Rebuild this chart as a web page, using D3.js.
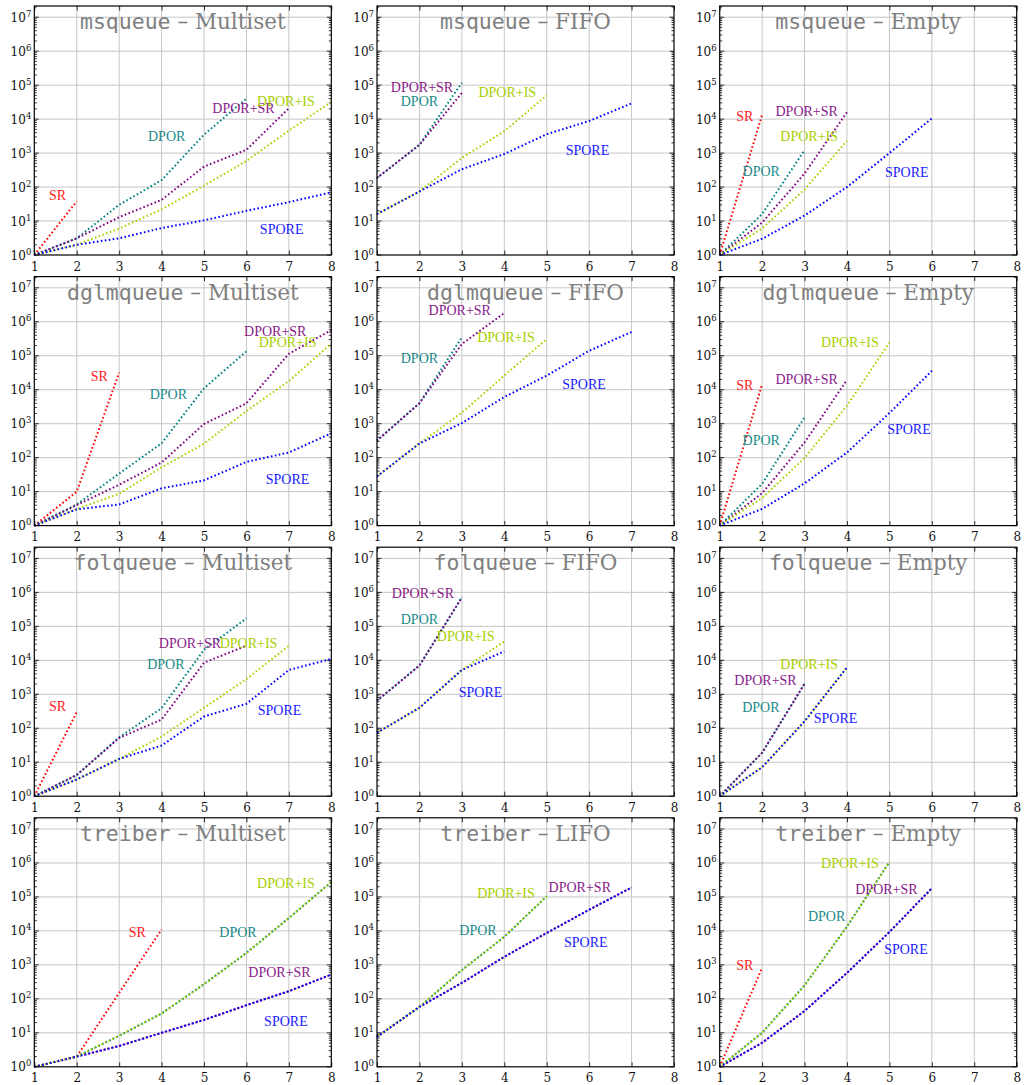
<!DOCTYPE html>
<html>
<head>
<meta charset="utf-8">
<script src="https://cdn.jsdelivr.net/npm/d3@7"></script>
<style>
  body { margin: 0; background: #fff; }
</style>
</head>
<body>
<svg id="chart" width="1025" height="1085"></svg>
<script>
// Number of explored states per thread count, log scale, for four data structures.
const structures = ["msqueue", "dglmqueue", "folqueue", "treiber"];
const specRows = [
  ["Multiset", "FIFO", "Empty"],
  ["Multiset", "FIFO", "Empty"],
  ["Multiset", "FIFO", "Empty"],
  ["Multiset", "LIFO", "Empty"]
];
const seriesNames = ["SR", "DPOR", "DPOR+SR", "DPOR+IS", "SPORE"];
const xTicks = [1, 2, 3, 4, 5, 6, 7, 8];
const yTickExponents = [0, 1, 2, 3, 4, 5, 6, 7];

// Each panel: one value list per series (SR, DPOR, DPOR+SR, DPOR+IS, SPORE), starting at x = 1.
const msqueueMultiset = [
  [1, 38],
  [1, 3.1, 30, 160, 3500, 40000],
  [1, 3.1, 13, 42, 400, 1250, 21000],
  [1, 2, 6, 22, 110, 590, 4600, 32000],
  [1, 2, 3.1, 6.2, 10.5, 20, 36, 70]
];
const msqueueFIFO = [
  [],
  [185, 1750, 118000],
  [185, 1750, 59000],
  [16, 74, 720, 4400, 50000],
  [16, 74, 335, 940, 3600, 8800, 29000]
];
const msqueueEmpty = [
  [1, 13500],
  [1, 16, 1220],
  [1, 9, 250, 16000],
  [1, 6, 85, 2300],
  [1, 3, 14.5, 100, 1000, 10500]
];
const dglmqueueMultiset = [
  [1, 10, 32000],
  [1, 4.2, 34, 265, 11000, 135000],
  [1, 4, 16, 72, 980, 4000, 115000, 570000],
  [1, 3.1, 8.6, 52, 258, 2350, 18000, 228000],
  [1, 3, 4.2, 12.5, 21.5, 75, 142, 520]
];
const dglmqueueFIFO = [
  [],
  [318, 4000, 350000],
  [318, 4000, 222000, 1800000],
  [28, 262, 2120, 26000, 310000],
  [28, 262, 1040, 6100, 26000, 140000, 500000]
];
const dglmqueueEmpty = [
  [1, 14500],
  [1, 17, 1530],
  [1, 9, 280, 19500],
  [1, 6.5, 98, 3400, 245000],
  [1, 3.1, 17.5, 142, 2050, 36000]
];
const folqueueMultiset = [
  [1, 300],
  [1, 4.2, 54, 390, 20500, 172000],
  [1, 4.2, 52, 180, 8500, 27000],
  [1, 3.1, 12.5, 57, 400, 2800, 27000],
  [1, 3.1, 12.5, 31, 222, 525, 5200, 11000]
];
const folqueueFIFO = [
  [],
  [650, 7000, 710000],
  [650, 7000, 710000],
  [74, 400, 5200, 36000],
  [74, 400, 5200, 18300]
];
const folqueueEmpty = [
  [],
  [1, 19, 2050],
  [1, 19, 2050],
  [1, 7.1, 160, 6200],
  [1, 7.1, 160, 6200]
];
const treiberMultiset = [
  [1, 2, 150, 11000],
  [1, 2, 8.2, 37, 270, 2250, 24000, 275000],
  [1, 2, 4.1, 10, 24, 65, 168, 520],
  [1, 2, 8.2, 37, 270, 2250, 24000, 275000],
  [1, 2, 4.1, 10, 24, 65, 168, 520]
];
const treiberLIFO = [
  [],
  [7.6, 58, 700, 6700, 105000],
  [7.6, 58, 295, 1730, 8700, 42000, 190000],
  [7.6, 58, 700, 6700, 105000],
  [7.6, 58, 295, 1730, 8700, 42000, 190000]
];
const treiberEmpty = [
  [1, 820],
  [1, 10, 250, 13500, 1070000],
  [1, 5.1, 44, 580, 9300, 180000],
  [1, 10, 250, 13500, 1070000],
  [1, 5.1, 44, 580, 9300, 180000]
];

// Label anchors per panel in data units: [x, log10(y)], in series order; null = no label.
const msqueueMultisetLabels = [[1.55, 1.76], [4.12, 3.48], [5.93, 4.33], [6.93, 4.53], [6.83, 0.74]];
const msqueueFIFOLabels = [null, [2.0, 4.51], [2.06, 4.92], [4.07, 4.8], [5.96, 3.09]];
const msqueueEmptyLabels = [[1.59, 4.07], [1.98, 2.45], [3.05, 4.24], [3.11, 3.5], [5.41, 2.42]];
const dglmqueueMultisetLabels = [[2.53, 4.39], [4.16, 3.85], [6.68, 5.71], [6.97, 5.4], [6.97, 1.35]];
const dglmqueueFIFOLabels = [null, [2.0, 4.93], [2.95, 6.33], [4.04, 5.54], [5.88, 4.15]];
const dglmqueueEmptyLabels = [[1.59, 4.14], [1.98, 2.5], [3.05, 4.31], [4.07, 5.39], [5.46, 2.84]];
const folqueueMultisetLabels = [[1.55, 2.63], [4.1, 3.89], [4.67, 4.49], [6.05, 4.49], [6.78, 2.53]];
const folqueueFIFOLabels = [null, [2.0, 5.2], [2.08, 5.96], [3.09, 4.71], [3.44, 3.06]];
const folqueueEmptyLabels = [null, [1.97, 2.6], [2.08, 3.4], [3.11, 3.89], [3.73, 2.3]];
const treiberMultisetLabels = [[3.43, 3.97], [5.8, 3.95], [6.78, 2.79], [6.93, 5.41], [6.93, 1.35]];
const treiberLIFOLabels = [null, [3.38, 4.02], [5.78, 5.29], [4.04, 5.1], [5.92, 3.65]];
const treiberEmptyLabels = [[1.59, 2.99], [3.52, 4.43], [4.93, 5.22], [4.07, 5.98], [5.39, 3.45]];

const panelValues = [
  [msqueueMultiset, msqueueFIFO, msqueueEmpty],
  [dglmqueueMultiset, dglmqueueFIFO, dglmqueueEmpty],
  [folqueueMultiset, folqueueFIFO, folqueueEmpty],
  [treiberMultiset, treiberLIFO, treiberEmpty]
];
const panelLabels = [
  [msqueueMultisetLabels, msqueueFIFOLabels, msqueueEmptyLabels],
  [dglmqueueMultisetLabels, dglmqueueFIFOLabels, dglmqueueEmptyLabels],
  [folqueueMultisetLabels, folqueueFIFOLabels, folqueueEmptyLabels],
  [treiberMultisetLabels, treiberLIFOLabels, treiberEmptyLabels]
];

// Styling
const seriesColors = ["#ff0000", "#008080", "#800080", "#a8d400", "#0000ff"];
const labelColors = ["#ff2020", "#1a8a8a", "#8a1a8a", "#a8d000", "#1a1aff"];
// Dot phase per series so coinciding curves still show both colours.
const dashOffsets = [0, 0, 0.9, 0.9, 0];
const serif = "'DejaVu Serif', serif";
const labelSerif = "'Liberation Serif', 'Times New Roman', serif";
const mono = "'DejaVu Sans Mono', monospace";

const layout = {
  left0: 34.3, colStep: 342.7, width: 297,
  bottom0: 255, rowStep: 270.6, height: 249,
  yTopExp: 7.33
};

const svg = d3.select("#chart");

structures.forEach((name, r) => {
  specRows[r].forEach((spec, c) => {
    const left = layout.left0 + c * layout.colStep;
    const bottom = layout.bottom0 + r * layout.rowStep;
    const top = bottom - layout.height;
    const right = left + layout.width;

    const x = d3.scaleLinear().domain([1, 8]).range([left, right]);
    const y = d3.scaleLog().domain([1, Math.pow(10, layout.yTopExp)]).range([bottom, top]);

    const g = svg.append("g").attr("class", "panel");

    // grid
    g.append("g").selectAll("line.vgrid").data(xTicks.slice(1, -1)).join("line")
      .attr("x1", d => x(d)).attr("x2", d => x(d))
      .attr("y1", top).attr("y2", bottom)
      .attr("stroke", "#c6c6c6").attr("stroke-width", 1);
    g.append("g").selectAll("line.hgrid").data(yTickExponents.slice(1)).join("line")
      .attr("x1", left).attr("x2", right)
      .attr("y1", d => y(Math.pow(10, d))).attr("y2", d => y(Math.pow(10, d)))
      .attr("stroke", "#c6c6c6").attr("stroke-width", 1);

    // title
    const title = g.append("text")
      .attr("x", (left + right) / 2).attr("y", top + 23)
      .attr("text-anchor", "middle")
      .attr("fill", "#808080")
      .attr("font-size", 21.5);
    title.append("tspan").attr("font-family", mono).text(name);
    title.append("tspan").attr("font-family", serif).text(" \u2013 " + spec);

    // ticks: major and minor on left/right, inward
    const minor = [];
    yTickExponents.forEach(e => {
      for (let m = 2; m <= 9; m++) {
        const v = m * Math.pow(10, e);
        if (Math.log10(v) <= layout.yTopExp) minor.push(v);
      }
    });
    const tickG = g.append("g").attr("stroke", "#000").attr("stroke-width", 0.8);
    minor.forEach(v => {
      tickG.append("line").attr("x1", left).attr("x2", left + 2.5).attr("y1", y(v)).attr("y2", y(v));
      tickG.append("line").attr("x1", right).attr("x2", right - 2.5).attr("y1", y(v)).attr("y2", y(v));
    });
    yTickExponents.forEach(e => {
      const v = Math.pow(10, e);
      tickG.append("line").attr("x1", left).attr("x2", left + 4.5).attr("y1", y(v)).attr("y2", y(v));
      tickG.append("line").attr("x1", right).attr("x2", right - 4.5).attr("y1", y(v)).attr("y2", y(v));
    });

    // x axis via d3 (inward ticks), plus mirrored ticks on top
    const xAxis = d3.axisBottom(x).tickValues(xTicks).tickSize(-4.5).tickPadding(7)
      .tickFormat(d3.format("d"));
    const xg = g.append("g").attr("transform", `translate(0,${bottom})`).call(xAxis);
    xg.select(".domain").remove();
    xg.selectAll("line").attr("stroke", "#000").attr("stroke-width", 0.8);
    xg.selectAll("text").attr("font-family", serif).attr("font-size", 12).attr("fill", "#111");
    const xTop = d3.axisTop(x).tickValues(xTicks).tickSize(-4.5).tickFormat("");
    const xtg = g.append("g").attr("transform", `translate(0,${top})`).call(xTop);
    xtg.select(".domain").remove();
    xtg.selectAll("line").attr("stroke", "#000").attr("stroke-width", 0.8);

    // y tick labels 10^k
    yTickExponents.forEach(e => {
      const t = g.append("text")
        .attr("x", left - 3).attr("y", y(Math.pow(10, e)) + 4.5)
        .attr("text-anchor", "end")
        .attr("font-family", serif).attr("fill", "#111");
      t.append("tspan").attr("font-size", 12).text("10");
      t.append("tspan").attr("font-size", 8.5).attr("dy", -5).text(String(e));
    });

    // series
    const line = d3.line().x(d => x(d[0])).y(d => y(d[1]));
    const values = panelValues[r][c];
    values.forEach((vals, i) => {
      if (!vals.length) return;
      const pts = vals.map((v, k) => [k + 1, v]);
      g.append("path")
        .attr("d", line(pts))
        .attr("fill", "none")
        .attr("stroke", seriesColors[i])
        .attr("stroke-width", 2)
        .attr("stroke-dasharray", "1.6,2.4")
        .attr("stroke-dashoffset", dashOffsets[i]);
    });

    // series labels
    panelLabels[r][c].forEach((pos, i) => {
      if (!pos) return;
      g.append("text")
        .attr("x", x(pos[0]))
        .attr("y", y(Math.pow(10, pos[1])))
        .attr("dy", "0.33em")
        .attr("text-anchor", "middle")
        .attr("font-family", labelSerif)
        .attr("font-size", 14)
        .attr("fill", labelColors[i])
        .text(seriesNames[i]);
    });

    // frame
    g.append("rect")
      .attr("x", left).attr("y", top)
      .attr("width", layout.width).attr("height", layout.height)
      .attr("fill", "none").attr("stroke", "#000").attr("stroke-width", 1.2);
  });
});
</script>
</body>
</html>
